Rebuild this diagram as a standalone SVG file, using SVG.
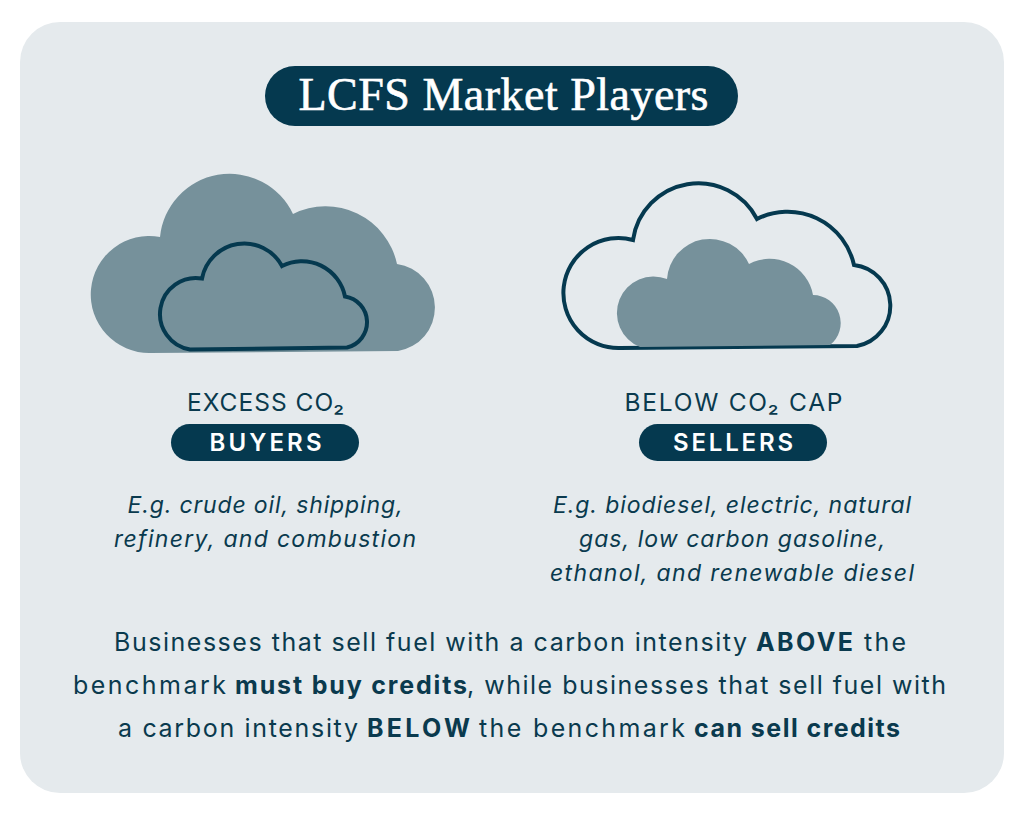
<svg xmlns="http://www.w3.org/2000/svg" width="1024" height="815" viewBox="0 0 1024 815">
<style>
.sans{font-family:"Inter","Open Sans","Liberation Sans",sans-serif;fill:#0a3a4e}
.c{text-anchor:middle}
.cap{font-size:24.500px}
.tag{font-size:24px;font-weight:600;fill:#fff}
.it{font-size:23px;font-style:italic}
.body{font-size:25px}
.b{font-weight:700}
.pill{fill:#05394f}
.fill{fill:#76919b}
.line{fill:none;stroke:#05394f;stroke-width:4;stroke-linejoin:miter}
</style>
<rect width="1024" height="815" fill="#fff"/>
<rect x="20" y="22" width="984" height="771" rx="40" fill="#e5eaed"/>
<g id="title">
<rect class="pill" x="265" y="66" width="473" height="60" rx="30"/>
<text x="503.500" y="110" text-anchor="middle" textLength="410" font-family="'Liberation Serif','DejaVu Serif',serif" font-size="46" fill="#fff" stroke="#fff" stroke-width=".6">LCFS Market Players</text>
</g>
<g id="buyers-cloud">
<path class="fill" d="M150 353A58.500 58.500 0 1 1 160 237A70 70 0 0 1 293 214A73 73 0 0 1 397 264A44 44 0 0 1 398 351Z"/>
<path class="line" d="M190 349.500A36 36 0 1 1 202 278.500A43 43 0 0 1 282 266A44 44 0 0 1 345 296.500A26 26 0 0 1 347 347.500Z"/>
</g>
<g id="buyers-label">
<text class="sans c cap" x="265.500" y="411" textLength="157">EXCESS CO₂</text>
<rect class="pill" x="171" y="424" width="188" height="37" rx="18.500"/>
<text class="sans c tag" x="265.500" y="451" textLength="112">BUYERS</text>
<text class="sans c it" x="265" y="513" textLength="275">E.g. crude oil, shipping,</text>
<text class="sans c it" x="265" y="547" textLength="302">refinery, and combustion</text>
</g>
<g id="sellers-cloud">
<path class="line" d="M620 348A55 55 0 1 1 633 240A66 66 0 0 1 757 219A68 68 0 0 1 854 265A41 41 0 0 1 857 346Z"/>
<path class="fill" d="M640 347A36 36 0 0 1 667 279A43 43 0 0 1 749 264A44 44 0 0 1 813 295A28 28 0 0 1 830 345Z"/>
</g>
<g id="sellers-label">
<text class="sans c cap" x="733.500" y="411" textLength="218">BELOW CO₂ CAP</text>
<rect class="pill" x="639" y="424" width="188" height="37" rx="18.500"/>
<text class="sans c tag" x="733" y="451" textLength="120">SELLERS</text>
<text class="sans c it" x="732" y="513" textLength="358">E.g. biodiesel, electric, natural</text>
<text class="sans c it" x="732" y="547" textLength="306">gas, low carbon gasoline,</text>
<text class="sans c it" x="732" y="581" textLength="364">ethanol, and renewable diesel</text>
</g>
<g id="summary">
<text class="sans body" y="651"><tspan x="114" textLength="633">Businesses that sell fuel with a carbon intensity</tspan> <tspan class="b" x="756" textLength="97">ABOVE</tspan> <tspan x="864" textLength="42">the</tspan></text>
<text class="sans body" y="694"><tspan x="73" textLength="153">benchmark</tspan> <tspan class="b" x="235" textLength="232">must buy credits</tspan><tspan x="467" textLength="479">, while businesses that sell fuel with</tspan></text>
<text class="sans body" y="737"><tspan x="118" textLength="240">a carbon intensity</tspan> <tspan class="b" x="367" textLength="103">BELOW</tspan> <tspan x="479" textLength="206">the benchmark</tspan> <tspan class="b" x="694" textLength="206">can sell credits</tspan></text>
</g>
</svg>
